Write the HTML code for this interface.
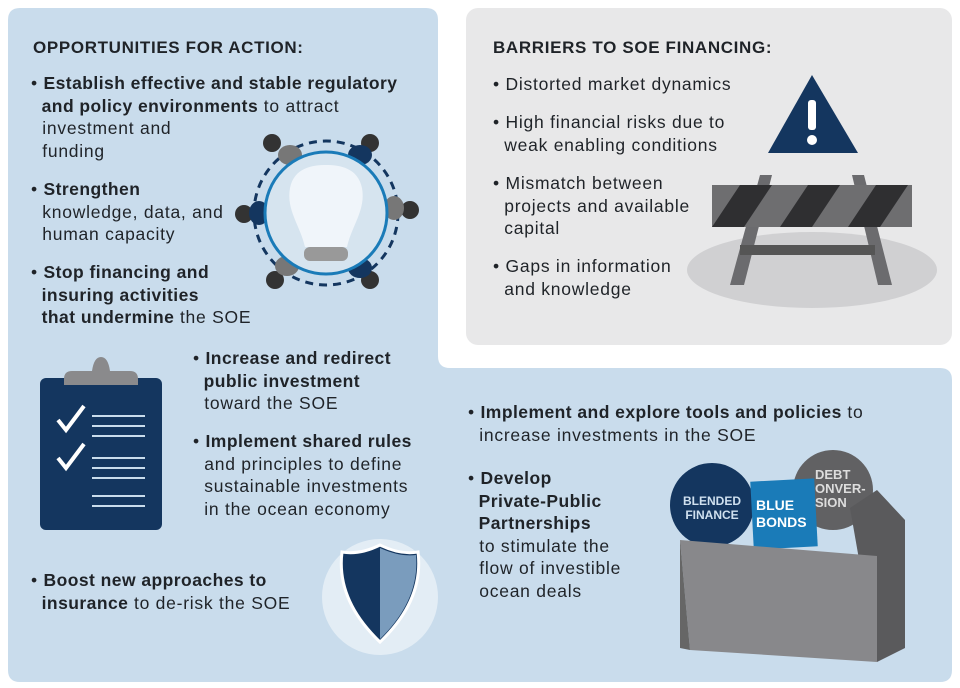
<!DOCTYPE html>
<html><head><meta charset="utf-8"><style>
body{margin:0;width:960px;height:688px;background:#fff;position:relative;overflow:hidden;font-family:"Liberation Sans",sans-serif;color:#1f2328}
.p{position:absolute}
.t{position:absolute;font-size:17.5px;line-height:22.5px;letter-spacing:0.75px;white-space:nowrap}
b{font-weight:bold;letter-spacing:0.45px}
h3{position:absolute;margin:0;font-size:17px;font-weight:bold;letter-spacing:0.65px}
</style></head><body>
<svg class="p" style="left:0;top:0" width="960" height="688">
<path d="M20 8 H426 Q438 8 438 20 V356 Q438 368 450 368 H940 Q952 368 952 380 V670 Q952 682 940 682 H20 Q8 682 8 670 V20 Q8 8 20 8Z" fill="#c9dcec"/>
<rect x="466" y="8" width="486" height="337" rx="12" fill="#e8e8e9"/>
<circle cx="326" cy="213" r="72" fill="none" stroke="#14365f" stroke-width="3" stroke-dasharray="8 6"/>
<g fill="#333"><circle cx="272" cy="143" r="9"/><circle cx="370" cy="143" r="9"/><circle cx="244" cy="214" r="9"/><circle cx="410" cy="210" r="9"/><circle cx="275" cy="280" r="9"/><circle cx="370" cy="280" r="9"/></g>
<g fill="#777"><ellipse cx="290" cy="155" rx="12" ry="10"/><ellipse cx="394" cy="208" rx="10" ry="12"/><ellipse cx="287" cy="266" rx="12" ry="10"/></g>
<g fill="#14365f"><ellipse cx="360" cy="155" rx="12" ry="10"/><ellipse cx="259" cy="213" rx="10" ry="12"/><ellipse cx="360" cy="268" rx="12" ry="10"/></g>
<circle cx="326" cy="213" r="61" fill="#d6e4ef" stroke="#1a7bb8" stroke-width="3"/>
<path d="M305 247 C300 225 286 210 290 188 C294 168 312 165 326 165 C340 165 358 168 362 188 C366 210 352 225 347 247Z" fill="#f1f6fa" opacity=".95"/>
<rect x="304" y="247" width="44" height="14" rx="6" fill="#999"/>
<path d="M812 75 L858 153 L768 153Z" fill="#14365f"/>
<rect x="808" y="100" width="8" height="30" rx="3" fill="#fff"/><circle cx="812" cy="140" r="5" fill="#fff"/>
<ellipse cx="812" cy="270" rx="125" ry="38" fill="#d0d0d2"/>
<path d="M760 175 h12 l-28 110 h-14Z M852 175 h12 l28 110 h-14Z" fill="#6b6b6e"/>
<rect x="740" y="245" width="135" height="10" fill="#555"/>
<rect x="712" y="185" width="200" height="42" fill="#6e6e70"/>
<path d="M740 185 h32 l-28 42 h-32Z M808 185 h32 l-28 42 h-32Z M876 185 h32 l-28 42 h-32Z" fill="#2f2f31"/>
<rect x="40" y="378" width="122" height="152" rx="6" fill="#14365f"/>
<path d="M64 385 h74 v-6 q0-8-8-8 h-20 q-2-14-9-14 q-7 0-9 14 h-20 q-8 0-8 8Z" fill="#8a8a8c"/>
<g stroke="#c9dcec" stroke-width="2"><line x1="92" y1="416" x2="145" y2="416"/><line x1="92" y1="426" x2="145" y2="426"/><line x1="92" y1="436" x2="145" y2="436"/><line x1="92" y1="458" x2="145" y2="458"/><line x1="92" y1="468" x2="145" y2="468"/><line x1="92" y1="478" x2="145" y2="478"/><line x1="92" y1="496" x2="145" y2="496"/><line x1="92" y1="506" x2="145" y2="506"/></g>
<path d="M58 420 l8 10 l18 -24 M58 458 l8 10 l18 -24" fill="none" stroke="#fff" stroke-width="4"/>
<circle cx="380" cy="597" r="58" fill="#e3edf5"/>
<path d="M380 545 Q400 555 418 552 Q424 600 380 642 Q336 600 342 552 Q360 555 380 545Z" fill="#14365f" stroke="#fff" stroke-width="3"/>
<path d="M380 548 Q400 557 416 555 Q420 600 380 639Z" fill="#7a9cbd"/>
<circle cx="833" cy="490" r="40" fill="#616163"/>
<circle cx="712" cy="505" r="42" fill="#14365f"/>
<rect x="752" y="480" width="64" height="68" fill="#1a7bb8" transform="rotate(-3 784 514)"/>
<path d="M850 508 L877 490 L905 520 V648 L877 662Z" fill="#5a5a5c"/>
<path d="M680 540 L877 556 V662 L690 650Z" fill="#88888b"/>
<path d="M680 540 L690 650 L680 648Z" fill="#666"/>
</svg>
<h3 style="left:33px;top:38px">OPPORTUNITIES FOR ACTION:</h3>
<h3 style="left:493px;top:38px">BARRIERS TO SOE FINANCING:</h3>
<div class="t" style="left:31px;top:72px">• <b>Establish effective and stable regulatory<br>&nbsp;&nbsp;and policy environments</b> to attract<br>&nbsp;&nbsp;investment and<br>&nbsp;&nbsp;funding</div>
<div class="t" style="left:31px;top:178px">• <b>Strengthen</b><br>&nbsp;&nbsp;knowledge, data, and<br>&nbsp;&nbsp;human capacity</div>
<div class="t" style="left:31px;top:261px">• <b>Stop financing and<br>&nbsp;&nbsp;insuring activities<br>&nbsp;&nbsp;that undermine</b> the SOE</div>
<div class="t" style="left:493px;top:73px">• Distorted market dynamics</div>
<div class="t" style="left:493px;top:111px">• High financial risks due to<br>&nbsp;&nbsp;weak enabling conditions</div>
<div class="t" style="left:493px;top:172px">• Mismatch between<br>&nbsp;&nbsp;projects and available<br>&nbsp;&nbsp;capital</div>
<div class="t" style="left:493px;top:255px">• Gaps in information<br>&nbsp;&nbsp;and knowledge</div>
<div class="t" style="left:193px;top:347px">• <b>Increase and redirect<br>&nbsp;&nbsp;public investment</b><br>&nbsp;&nbsp;toward the SOE</div>
<div class="t" style="left:193px;top:430px">• <b>Implement shared rules</b><br>&nbsp;&nbsp;and principles to define<br>&nbsp;&nbsp;sustainable investments<br>&nbsp;&nbsp;in the ocean economy</div>
<div class="t" style="left:31px;top:569px">• <b>Boost new approaches to<br>&nbsp;&nbsp;insurance</b> to de-risk the SOE</div>
<div class="t" style="left:468px;top:401px">• <b>Implement and explore tools and policies</b> to<br>&nbsp;&nbsp;increase investments in the SOE</div>
<div class="t" style="left:468px;top:467px">• <b>Develop<br>&nbsp;&nbsp;Private-Public<br>&nbsp;&nbsp;Partnerships</b><br>&nbsp;&nbsp;to stimulate the<br>&nbsp;&nbsp;flow of investible<br>&nbsp;&nbsp;ocean deals</div>
<div class="p" style="left:680px;top:494px;width:64px;font-size:12px;line-height:14px;color:#cfe0ef;text-align:center;font-weight:bold">BLENDED FINANCE</div>
<div class="p" style="left:756px;top:497px;font-size:14px;line-height:17px;color:#fff;font-weight:bold">BLUE<br>BONDS</div>
<div class="p" style="left:815px;top:468px;font-size:13px;line-height:14px;color:#ddd;font-weight:bold">DEBT<br>ONVER-<br>SION</div>
</body></html>
